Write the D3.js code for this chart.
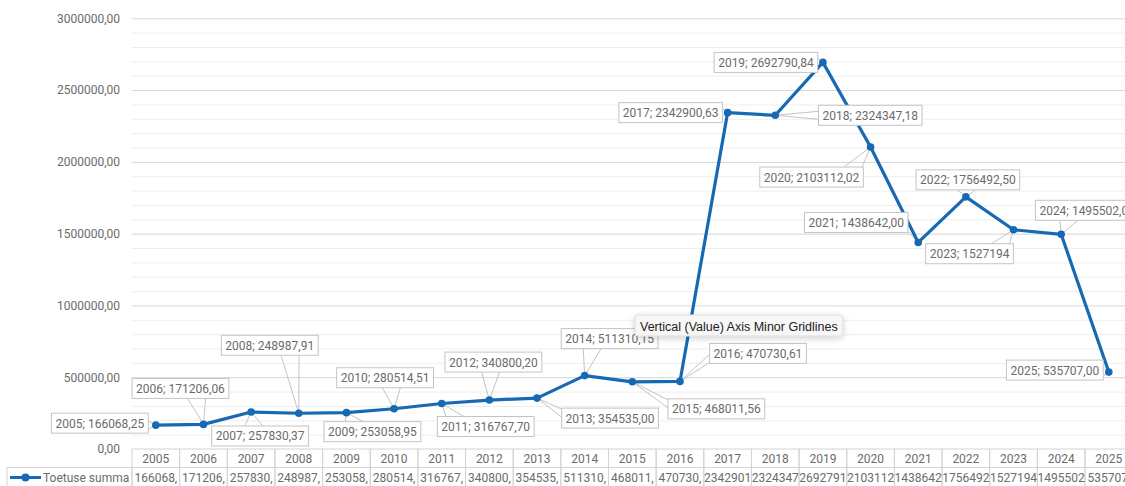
<!DOCTYPE html>
<html>
<head>
<meta charset="utf-8">
<script src="https://cdn.jsdelivr.net/npm/d3@7"></script>
<style>
  body { margin: 0; background: #fff; }
  svg { display: block; font-family: Roboto, "Liberation Sans", sans-serif; }
</style>
</head>
<body>
<svg id="chart" width="1125" height="486"></svg>
<script>
// ---- Dados
const years = ['2005', '2006', '2007', '2008', '2009', '2010', '2011', '2012', '2013', '2014', '2015',
               '2016', '2017', '2018', '2019', '2020', '2021', '2022', '2023', '2024', '2025'];
const values = [166068.25, 171206.06, 257830.37, 248987.91, 253058.95, 280514.51, 316767.70, 340800.20,
                354535.00, 511310.15, 468011.56, 470730.61, 2342900.63, 2324347.18, 2692790.84, 2103112.02,
                1438642.00, 1756492.50, 1527194, 1495502.00, 535707.00];
const pointLabels = ['166068,25', '171206,06', '257830,37', '248987,91', '253058,95', '280514,51', '316767,70',
                     '340800,20', '354535,00', '511310,15', '468011,56', '470730,61', '2342900,63', '2324347,18',
                     '2692790,84', '2103112,02', '1438642,00', '1756492,50', '1527194', '1495502,00', '535707,00'];
// textos da tabela como aparecem (cortados pela largura da célula)
const tableLabels = ['166068,', '171206,', '257830,', '248987,', '253058,', '280514,', '316767,', '340800,',
                     '354535,', '511310,', '468011,', '470730,', '2342901', '2324347', '2692791', '2103112',
                     '1438642', '1756492', '1527194', '1495502', '535707,'];
const yTicks = [0, 500000, 1000000, 1500000, 2000000, 2500000, 3000000];
const seriesName = 'Toetuse summa';
const tooltipText = 'Vertical (Value) Axis Minor Gridlines';

// posição das caixas de rótulo relativa ao ponto (dx, dy do centro)
const labelOffsets = [[-56, -2], [-23, -36], [9, 24], [-29, -68], [26, 19], [-9, -31], [44, 23], [4, -38],
                      [73, 20], [25, -37], [84, 27], [78, -28], [-57, 0], [95, 0], [-57, 0], [-59, 30],
                      [-62, -20], [2, -17], [-44, 24], [26, -24], [-54, -2]];

const blue = '#1769b4';
const textGray = '#6b6b6b';

const svg = d3.select('#chart');
const margens = { left: 132, top: 18.3, bottom: 449 };
const colW = 47.65;
const right = margens.left + years.length * colW;

// ---- Escalas
const mapX = d3.scaleBand().domain(years).range([margens.left, right]);
const mapY = d3.scaleLinear().domain([0, 3000000]).range([margens.bottom, margens.top]);
const cx = i => mapX(years[i]) + mapX.bandwidth() / 2;

const fmt = d3.formatLocale({ decimal: ',', thousands: '', grouping: [3], currency: ['', ''] }).format('.2f');

// ---- Grades
svg.append('g')
    .attr('transform', `translate(${margens.left},0)`)
    .call(d3.axisLeft(mapY).tickValues(d3.range(100000, 3000001, 100000).filter(d => d % 500000 !== 0))
        .tickSize(-(right - margens.left)).tickFormat(''))
    .call(g => g.select('.domain').remove())
    .call(g => g.selectAll('line').attr('stroke', '#eeeeee'));

svg.append('g')
    .attr('transform', `translate(${margens.left},0)`)
    .call(d3.axisLeft(mapY).tickValues(yTicks.slice(1)).tickSize(-(right - margens.left)).tickFormat(''))
    .call(g => g.select('.domain').remove())
    .call(g => g.selectAll('line').attr('stroke', '#d6d6d6'));

// ---- Eixo Y
svg.append('g')
    .attr('transform', `translate(${margens.left},0)`)
    .call(d3.axisLeft(mapY).tickValues(yTicks).tickFormat(fmt).tickSize(0).tickPadding(12))
    .call(g => g.select('.domain').remove())
    .call(g => g.selectAll('text').attr('fill', textGray).style('font-size', '12px')
        .style('font-family', 'Roboto, sans-serif'));

// ---- Tabela de dados
const rowTop = margens.bottom, rowH = 18.5;
const table = svg.append('g');
table.selectAll('rect.head')
    .data(years)
    .join('rect')
    .attr('class', 'head')
    .attr('x', d => mapX(d)).attr('y', rowTop)
    .attr('width', mapX.bandwidth()).attr('height', rowH)
    .attr('fill', 'none').attr('stroke', '#d4d4d4');
table.selectAll('rect.val')
    .data(years)
    .join('rect')
    .attr('class', 'val')
    .attr('x', d => mapX(d)).attr('y', rowTop + rowH)
    .attr('width', mapX.bandwidth()).attr('height', rowH + 2)
    .attr('fill', 'none').attr('stroke', '#d4d4d4');
table.append('rect')
    .attr('x', 7).attr('y', rowTop + rowH)
    .attr('width', margens.left - 7).attr('height', rowH + 2)
    .attr('fill', 'none').attr('stroke', '#d4d4d4');

table.selectAll('text.head')
    .data(years)
    .join('text')
    .attr('class', 'head')
    .attr('x', d => mapX(d) + mapX.bandwidth() / 2).attr('y', rowTop + 13.5)
    .attr('text-anchor', 'middle').attr('fill', textGray).style('font-size', '12px')
    .text(d => d);
table.selectAll('text.val')
    .data(tableLabels)
    .join('text')
    .attr('class', 'val')
    .attr('x', (d, i) => cx(i)).attr('y', rowTop + rowH + 14)
    .attr('text-anchor', 'middle').attr('fill', textGray).style('font-size', '12px')
    .text(d => d);

// legenda
const legY = rowTop + rowH + 10;
table.append('line').attr('x1', 10).attr('x2', 41).attr('y1', legY).attr('y2', legY)
    .attr('stroke', blue).attr('stroke-width', 3);
table.append('circle').attr('cx', 25.5).attr('cy', legY).attr('r', 4).attr('fill', blue);
table.append('text').attr('x', 43).attr('y', rowTop + rowH + 14)
    .attr('fill', textGray).style('font-size', '12px').text(seriesName);

// ---- Linhas de chamada (camada abaixo da série)
const wedges = svg.append('g');

// ---- Série
svg.append('path')
    .datum(values)
    .attr('d', d3.line().x((d, i) => cx(i)).y(d => mapY(d)))
    .attr('fill', 'none').attr('stroke', blue).attr('stroke-width', 3.2)
    .attr('stroke-linejoin', 'round');
svg.append('g').selectAll('circle')
    .data(values)
    .join('circle')
    .attr('cx', (d, i) => cx(i)).attr('cy', d => mapY(d)).attr('r', 3.8)
    .attr('fill', blue);

// ---- Caixas de rótulo
const boxLayer = svg.append('g');
values.forEach((v, i) => {
    const px = cx(i), py = mapY(v);
    const box = boxLayer.append('rect');
    const t = boxLayer.append('text').style('font-size', '12px').attr('fill', textGray)
        .text(`${years[i]}; ${pointLabels[i]}`);
    const w = t.node().getComputedTextLength() + 8, h = 20;
    const bx = px + labelOffsets[i][0] - w / 2, by = py + labelOffsets[i][1] - h / 2;
    t.attr('x', bx + 4).attr('y', by + 14.5);
    box.attr('x', bx).attr('y', by).attr('width', w).attr('height', h)
        .attr('fill', '#fff').attr('stroke', '#c4c4c4');

    // chamada em cunha da borda da caixa até o ponto
    const x0 = bx, x1 = bx + w, y0 = by, y1 = by + h;
    const dxo = px < x0 ? x0 - px : (px > x1 ? px - x1 : 0);
    const dyo = py < y0 ? y0 - py : (py > y1 ? py - y1 : 0);
    let p1, p2;
    if (dyo > dxo) {
        const ey = py < y0 ? y0 : y1;
        const c = Math.max(x0 + 10, Math.min(x1 - 10, px - (px - (x0 + x1) / 2) * 0.3));
        p1 = [c - 9, ey]; p2 = [c + 9, ey];
    } else {
        const ex = px < x0 ? x0 : x1;
        const c = Math.max(y0 + 5, Math.min(y1 - 5, py));
        p1 = [ex, c - 4]; p2 = [ex, c + 4];
    }
    wedges.append('path')
        .attr('d', `M${p1[0]},${p1[1]}L${px},${py}L${p2[0]},${p2[1]}`)
        .attr('fill', 'none').attr('stroke', '#c4c4c4').attr('stroke-width', 1);
});

// ---- Dica (tooltip)
const defs = svg.append('defs');
defs.append('filter').attr('id', 'sombra').attr('x', '-20%').attr('y', '-50%').attr('width', '140%').attr('height', '220%')
    .append('feDropShadow').attr('dx', 0).attr('dy', 2).attr('stdDeviation', 3).attr('flood-opacity', 0.18);
const tip = svg.append('g');
const tipRect = tip.append('rect');
const tipText = tip.append('text')
    .attr('x', 640).attr('y', 330.5)
    .attr('fill', '#222').style('font-family', '"Liberation Sans", Arial, sans-serif').style('font-size', '12.5px')
    .text(tooltipText);
const tw = tipText.node().getComputedTextLength();
tipRect.attr('x', 635).attr('y', 315).attr('width', tw + 10).attr('height', 21).attr('rx', 3)
    .attr('fill', '#f7f7f7').attr('stroke', '#dcdcdc').attr('filter', 'url(#sombra)');
</script>
</body>
</html>
